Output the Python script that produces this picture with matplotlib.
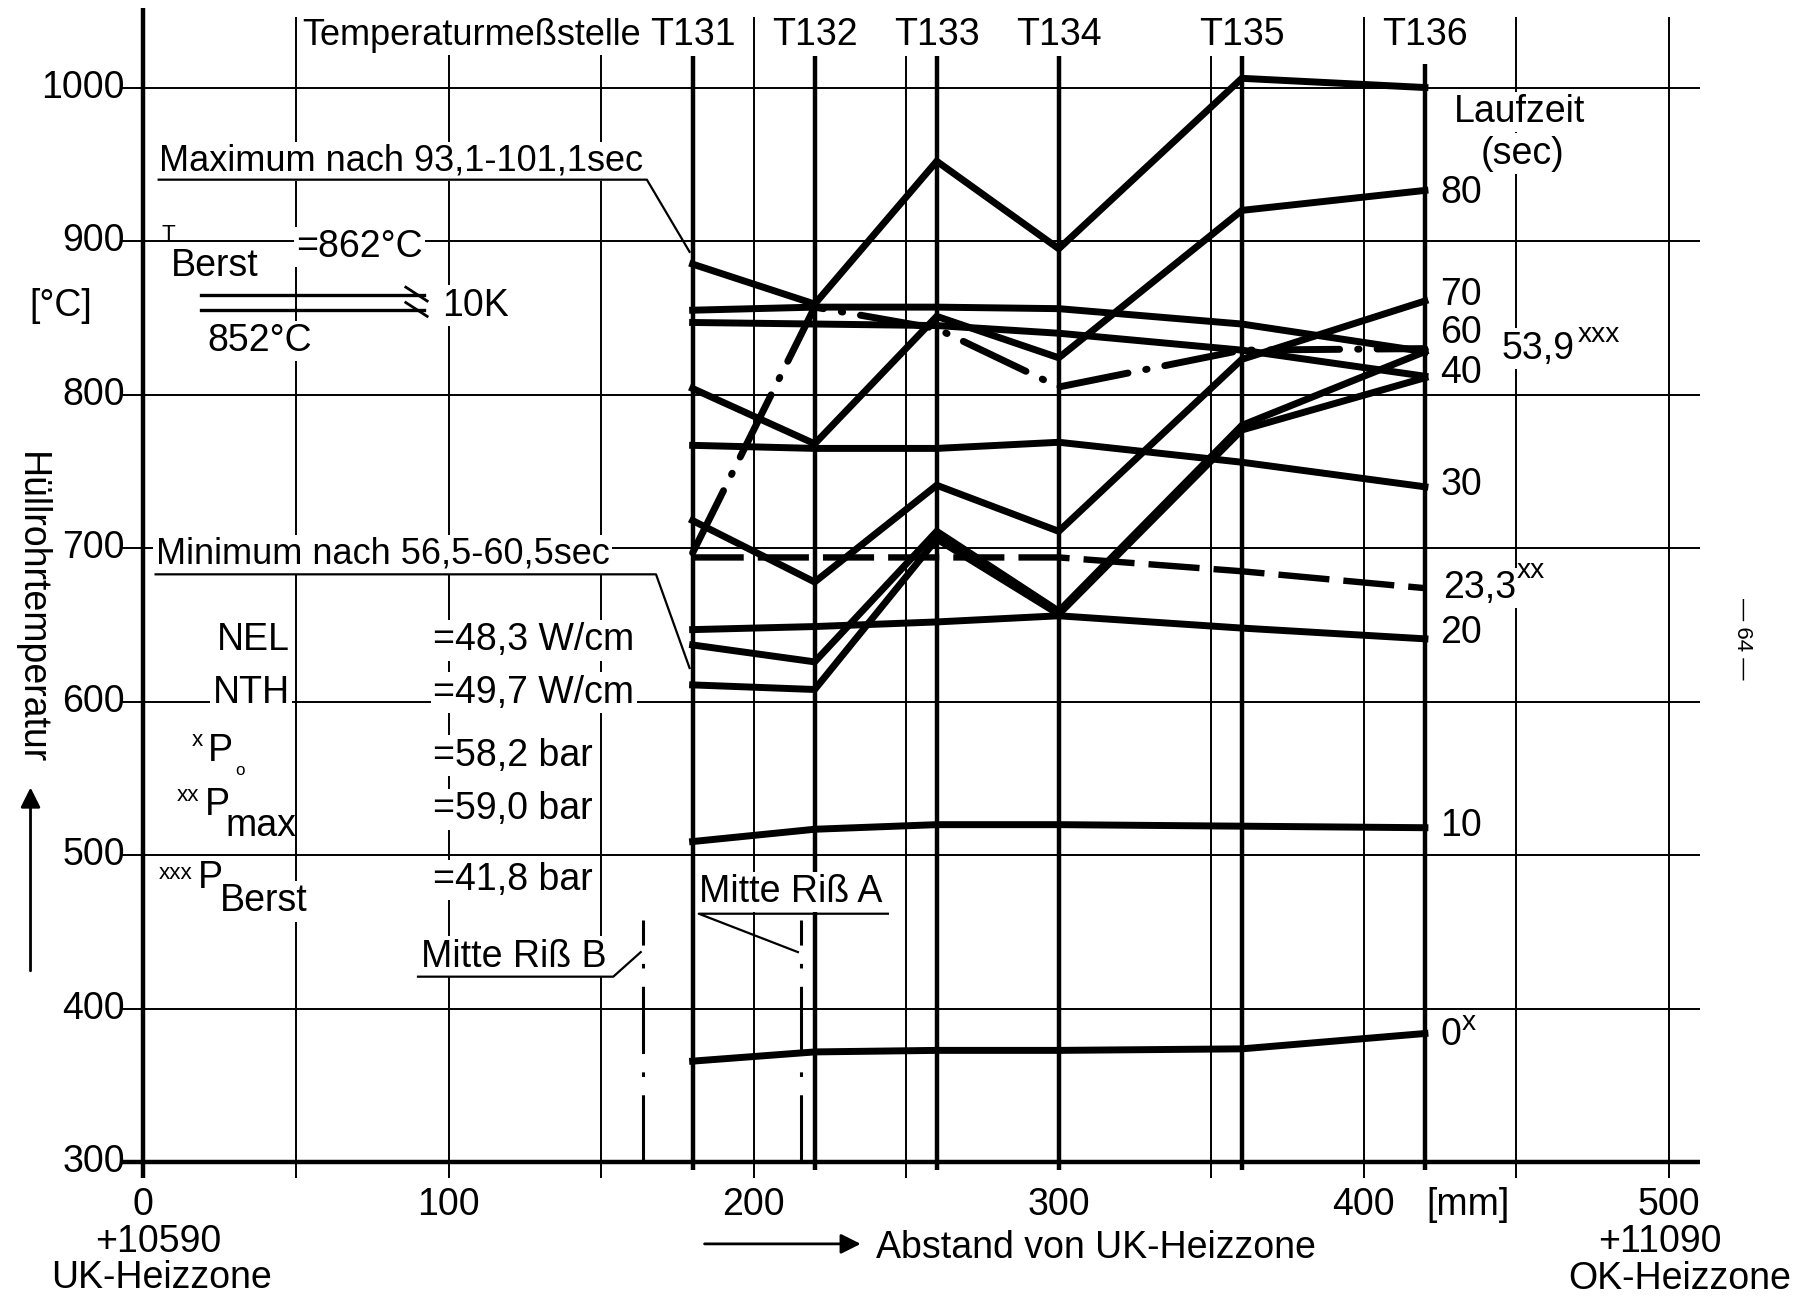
import matplotlib
matplotlib.use('Agg')
import matplotlib.pyplot as plt
from matplotlib import font_manager

# narrow font looks closest to the DIN lettering of the original drawing
names = {f.name for f in font_manager.fontManager.ttflist}
FONT = 'Liberation Sans Narrow' if 'Liberation Sans Narrow' in names else 'Liberation Sans'
plt.rcParams['font.family'] = [FONT, 'DejaVu Sans']

# measuring points (distance from lower end of heated zone, mm)
sensor_names = ['T131', 'T132', 'T133', 'T134', 'T135', 'T136']
sensor_pos = [180, 220, 260, 300, 360, 420]

# cladding temperature [degC] at T131..T136, one list per run time
temp_0s = [366, 372, 373, 373, 374, 384]
temp_10s = [509, 517, 520, 520, 519, 518]
temp_20s = [647, 649, 652, 656, 648, 641]
temp_23_3s = [694, 694, 694, 694, 685, 674]      # p_max, dashed
temp_30s = [767, 765, 765, 769, 756, 740]
temp_40s = [847, 846, 845, 840, 829, 812]
temp_unlabelled = [855, 857, 857, 856, 846, 828]
temp_53_9s = [697, 857, 843, 805, 829, 830]      # burst, dash-dot
temp_60s = [637, 626, 711, 659, 780, 828]
temp_70s = [718, 678, 741, 711, 823, 861]
temp_80s = [804, 768, 851, 824, 920, 933]
temp_max = [885, 859, 952, 895, 1006, 1000]      # 93,1-101,1 sec
temp_min = [611, 608, 706, 657, 777, 811]        # 56,5-60,5 sec

# crack centres (mm)
crack_a = 215.6
crack_b = 163.8

grid_x = [0, 50, 100, 150, 200, 250, 300, 350, 400, 450, 500]
grid_y = [300, 400, 500, 600, 700, 800, 900, 1000]
x_ticklabels = [0, 100, 200, 300, 400, 500]

# right hand labels: (text, y)
time_labels = [('80', 931), ('70', 865), ('60', 840), ('40', 814),
               ('30', 741), ('20', 645), ('10', 519)]

FS = 27
FS_LONG = 26
WHITE = dict(fc='white', ec='none', pad=1.5)

fig = plt.figure(figsize=(17.99, 13.03), dpi=100)
ax = fig.add_axes([0, 0, 1, 1])
ax.set_xlim(-47, 542.6)
ax.set_ylim(208.5, 1057)
ax.axis('off')

# ---- grid ----
ax.hlines(grid_y, -7, 510, color='k', lw=1.4, zorder=1)
ax.hlines(300, -7, 510, color='k', lw=3.2, zorder=2)
thin_x = [x for x in grid_x if x not in sensor_pos and x != 0]
ax.vlines(thin_x, 290, 1046, color='k', lw=1.4, zorder=1)
ax.vlines(0, 290, 1052, color='k', lw=3.2, zorder=2)
ax.vlines(sensor_pos[:-1], 295, 1022, color='k', lw=3.2, zorder=2)
ax.vlines(sensor_pos[-1], 295, 1015, color='k', lw=3.2, zorder=2)

# crack positions
ax.vlines([crack_a, crack_b], 300, 458, color='k', lw=2.2, zorder=2,
          linestyles=[(0, (22, 6, 1.5, 6))])

# ---- curves ----
solid = [temp_0s, temp_10s, temp_20s, temp_30s, temp_40s, temp_unlabelled,
         temp_60s, temp_70s, temp_80s, temp_max, temp_min]
for t in solid:
    ax.plot(sensor_pos, t, color='k', lw=5, solid_joinstyle='miter', zorder=3)
ax.plot(sensor_pos, temp_23_3s, color='k', lw=4.6, ls=(0, (8, 2.2)), zorder=3)
ax.plot(sensor_pos, temp_53_9s, color='k', lw=5, ls=(0, (10, 2.6, 0.2, 2.6)),
        dash_capstyle='round', zorder=3)

# ---- axis labels ----
for v in grid_y:
    ax.text(-6, v, str(v), ha='right', va='center', fontsize=FS, zorder=4)
for v in x_ticklabels:
    ax.text(v, 272, str(v), ha='center', va='center', fontsize=FS, zorder=4)
ax.text(5, 248, '+10590', ha='center', va='center', fontsize=FS)
ax.text(6, 225, 'UK-Heizzone', ha='center', va='center', fontsize=FS)
ax.text(497, 248, '+11090', ha='center', va='center', fontsize=FS)
ax.text(540, 224, 'OK-Heizzone', ha='right', va='center', fontsize=FS)
ax.text(434, 272, '[mm]', ha='center', va='center', fontsize=FS)
ax.annotate('', xy=(236, 247), xytext=(183, 247),
            arrowprops=dict(arrowstyle='-|>', lw=2, color='k', mutation_scale=30))
ax.text(240, 244, 'Abstand von UK-Heizzone', ha='left', va='center', fontsize=FS)

ax.text(-27, 858, '[°C]', ha='center', va='center', fontsize=FS)
ax.text(-37, 661, 'Hüllrohrtemperatur', rotation=-90, ha='center', va='center',
        fontsize=FS)
ax.annotate('', xy=(-37, 546), xytext=(-37, 423),
            arrowprops=dict(arrowstyle='-|>', lw=2, color='k', mutation_scale=30))

# sensor names along the top
ax.text(163, 1034, 'Temperaturmeßstelle', ha='right', va='center', fontsize=FS_LONG,
        bbox=WHITE, zorder=4)
for name, x in zip(sensor_names, sensor_pos):
    ax.text(x, 1034, name, ha='center', va='center', fontsize=FS, bbox=WHITE,
            zorder=4)

# ---- annotations on the left ----
ax.text(5, 952, 'Maximum nach 93,1-101,1sec', ha='left', va='center',
        fontsize=FS_LONG, bbox=WHITE, zorder=4)
ax.plot([5, 165, 179], [940, 940, 893], color='k', lw=1.6, zorder=4)

ax.text(6, 904, 'T', ha='left', va='center', fontsize=FS * 0.6, zorder=4)
ax.text(9, 884, 'Berst', ha='left', va='center', fontsize=FS, bbox=WHITE, zorder=4)
ax.text(50, 896, '=862°C', ha='left', va='center', fontsize=FS, bbox=WHITE, zorder=4)
ax.plot([19, 92], [865, 865], color='k', lw=2.4, zorder=4)
ax.plot([19, 92], [855, 855], color='k', lw=2.4, zorder=4)
ax.plot([86, 93], [870, 861], color='k', lw=2, zorder=4)
ax.plot([86, 93], [860, 851], color='k', lw=2, zorder=4)
ax.text(98, 858, '10K', ha='left', va='center', fontsize=FS, bbox=WHITE, zorder=4)
ax.text(21, 835, '852°C', ha='left', va='center', fontsize=FS, bbox=WHITE, zorder=4)

ax.text(4, 696, 'Minimum nach 56,5-60,5sec', ha='left', va='center',
        fontsize=FS_LONG, bbox=WHITE, zorder=4)
ax.plot([4, 168, 179], [683, 683, 622], color='k', lw=1.6, zorder=4)

ax.text(48, 640, 'NEL', ha='right', va='center', fontsize=FS, bbox=WHITE, zorder=4)
ax.text(48, 606, 'NTH', ha='right', va='center', fontsize=FS, bbox=WHITE, zorder=4)
ax.text(95, 640, '=48,3 W/cm', ha='left', va='center', fontsize=FS, bbox=WHITE, zorder=4)
ax.text(95, 606, '=49,7 W/cm', ha='left', va='center', fontsize=FS, bbox=WHITE, zorder=4)

# x P_o
ax.text(16, 575, 'x', ha='left', va='center', fontsize=FS * 0.6, zorder=4)
ax.text(21, 568, 'P', ha='left', va='center', fontsize=FS, zorder=4)
ax.text(30, 555, 'o', ha='left', va='center', fontsize=FS * 0.45, zorder=4)
ax.text(95, 565, '=58,2 bar', ha='left', va='center', fontsize=FS, bbox=WHITE, zorder=4)

# xx P_max
ax.text(11, 539, 'xx', ha='left', va='center', fontsize=FS * 0.6, zorder=4)
ax.text(20, 533, 'P', ha='left', va='center', fontsize=FS, zorder=4)
ax.text(27, 519, 'max', ha='left', va='center', fontsize=FS, zorder=4)
ax.text(95, 530, '=59,0 bar', ha='left', va='center', fontsize=FS, bbox=WHITE, zorder=4)

# xxx P_Berst
ax.text(5, 488, 'xxx', ha='left', va='center', fontsize=FS * 0.6, zorder=4)
ax.text(18, 485, 'P', ha='left', va='center', fontsize=FS, zorder=4)
ax.text(25, 470, 'Berst', ha='left', va='center', fontsize=FS, bbox=WHITE, zorder=4)
ax.text(95, 484, '=41,8 bar', ha='left', va='center', fontsize=FS, bbox=WHITE, zorder=4)

ax.text(91, 434, 'Mitte Riß B', ha='left', va='center', fontsize=FS, bbox=WHITE, zorder=4)
ax.plot([90, 154, 163], [421, 421, 437], color='k', lw=1.6, zorder=4)
ax.text(182, 476, 'Mitte Riß A', ha='left', va='center', fontsize=FS, bbox=WHITE, zorder=4)
ax.plot([244, 182, 214.5], [462, 462, 437], color='k', lw=1.6, zorder=4)

# ---- run time labels on the right ----
ax.text(451, 984, 'Laufzeit', ha='center', va='center', fontsize=FS, bbox=WHITE, zorder=4)
ax.text(452, 957, '(sec)', ha='center', va='center', fontsize=FS, bbox=WHITE, zorder=4)
for txt, y in time_labels:
    ax.text(425, y, txt, ha='left', va='center', fontsize=FS, bbox=WHITE, zorder=4)
ax.text(445, 830, '53,9', ha='left', va='center', fontsize=FS, bbox=WHITE, zorder=4)
ax.text(470, 839, 'xxx', ha='left', va='center', fontsize=FS * 0.75, zorder=4)
ax.text(426, 674, '23,3', ha='left', va='center', fontsize=FS, bbox=WHITE, zorder=4)
ax.text(450, 685, 'xx', ha='left', va='center', fontsize=FS * 0.75, zorder=4)
ax.text(425, 383, '0', ha='left', va='center', fontsize=FS, bbox=WHITE, zorder=4)
ax.text(432, 391, 'x', ha='left', va='center', fontsize=FS * 0.75, zorder=4)

# page number
ax.text(524, 641, '— 64 —', rotation=-90, ha='center', va='center', fontsize=16)

fig.savefig('out.png', dpi=100, facecolor='white')
